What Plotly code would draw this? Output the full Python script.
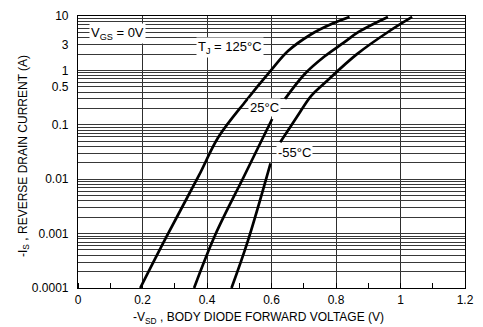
import numpy as np
import plotly.graph_objects as go

# Body diode forward characteristics, -I_S vs -V_SD at three junction temperatures
v_125 = [0.193, 0.274, 0.375, 0.435, 0.521, 0.597, 0.652, 0.723, 0.784, 0.842]
i_125 = [1e-4, 8.7e-4, 0.0117, 0.059, 0.277, 0.98, 2.29, 4.62, 7.05, 9.6]

# 25 C curve is broken around its label (None splits the line)
v_25 = [0.360, 0.425, 0.516, 0.602, None, 0.642, 0.703, 0.764, 0.824, 0.870, 0.961]
i_25 = [1e-4, 9.3e-4, 0.0117, 0.128, None, 0.30, 0.86, 1.8, 3.24, 5.1, 9.6]

# -55 C curve, also broken around its label
v_m55 = [0.476, 0.526, 0.597, None, 0.627, 0.678, 0.723, 0.764, 0.865, 0.966, 1.036]
i_m55 = [1e-4, 7.1e-4, 0.0195, None, 0.048, 0.137, 0.34, 0.58, 1.99, 5.3, 9.6]

x_ticks = [0, 0.2, 0.4, 0.6, 0.8, 1.0, 1.2]
x_tick_text = ["0", "0.2", "0.4", "0.6", "0.8", "1", "1.2"]
y_label_vals = [10, 3, 1, 0.5, 0.1, 0.01, 0.001, 0.0001]
y_label_text = ["10", "3", "1", "0.5", "0.1", "0.01", "0.001", "0.0001"]

FONT = "Liberation Sans, Arial, Helvetica, sans-serif"

# log grid: a line at every 1..9 step of each decade, labels only on selected values
grid_vals = [m * 10.0 ** e for e in range(-4, 1) for m in range(1, 10)] + [10.0]
grid_text = []
for g in grid_vals:
    lbl = ""
    for v, t in zip(y_label_vals, y_label_text):
        if abs(g - v) / v < 1e-6:
            lbl = t
    grid_text.append(lbl)

fig = go.Figure()
for xs, ys in [(v_125, i_125), (v_25, i_25), (v_m55, i_m55)]:
    fig.add_trace(go.Scatter(x=xs, y=ys, mode="lines",
                             line=dict(color="black", width=2.7, shape="spline", smoothing=1.0),
                             connectgaps=False, showlegend=False, hoverinfo="skip"))

fig.update_layout(
    width=483, height=327,
    margin=dict(l=78, r=9, t=15, b=39),
    paper_bgcolor="white", plot_bgcolor="white",
    font=dict(family=FONT, size=12, color="black"),
    showlegend=False,
)

fig.update_xaxes(
    range=[0, 1.2], tickvals=x_ticks, ticktext=x_tick_text,
    showgrid=True, gridcolor="#2e2e2e", gridwidth=1,
    showline=True, linecolor="black", linewidth=1.2, mirror=True,
    ticks="", zeroline=False,
    minor=dict(dtick=0.1, ticks="inside", ticklen=5, tickcolor="black", showgrid=False),
    tickfont=dict(size=12, family=FONT),
)
fig.update_yaxes(
    type="log", range=[-4, 1], tickvals=grid_vals, ticktext=grid_text,
    showgrid=True, gridcolor="#383838", gridwidth=1,
    showline=True, linecolor="black", linewidth=1.2, mirror=True,
    ticks="", ticklabelstandoff=6, zeroline=False,
    tickfont=dict(size=12, family=FONT),
)

ann = [
    dict(x=0.121, y=np.log10(4.7), text="V<sub>GS</sub> = 0V"),
    dict(x=0.47, y=np.log10(2.6), text="T<sub>J</sub> = 125°C"),
    dict(x=0.579, y=np.log10(0.21), text="25°C"),
    dict(x=0.67, y=np.log10(0.031), text="-55°C"),
]
for a in ann:
    fig.add_annotation(xref="x", yref="y", showarrow=False, bgcolor="white",
                       borderpad=1, font=dict(size=13), **a)

fig.add_annotation(xref="paper", yref="paper", x=0.467, y=-0.11, yanchor="middle",
                   showarrow=False, text="-V<sub>SD</sub> , BODY DIODE FORWARD VOLTAGE (V)",
                   font=dict(size=12))
fig.add_annotation(xref="paper", yref="paper", x=-0.141, y=0.487, xanchor="center",
                   yanchor="middle", textangle=-90, showarrow=False,
                   text="-I<sub>S</sub> , REVERSE DRAIN CURRENT (A)",
                   font=dict(size=12))

fig.write_html("out.html")
